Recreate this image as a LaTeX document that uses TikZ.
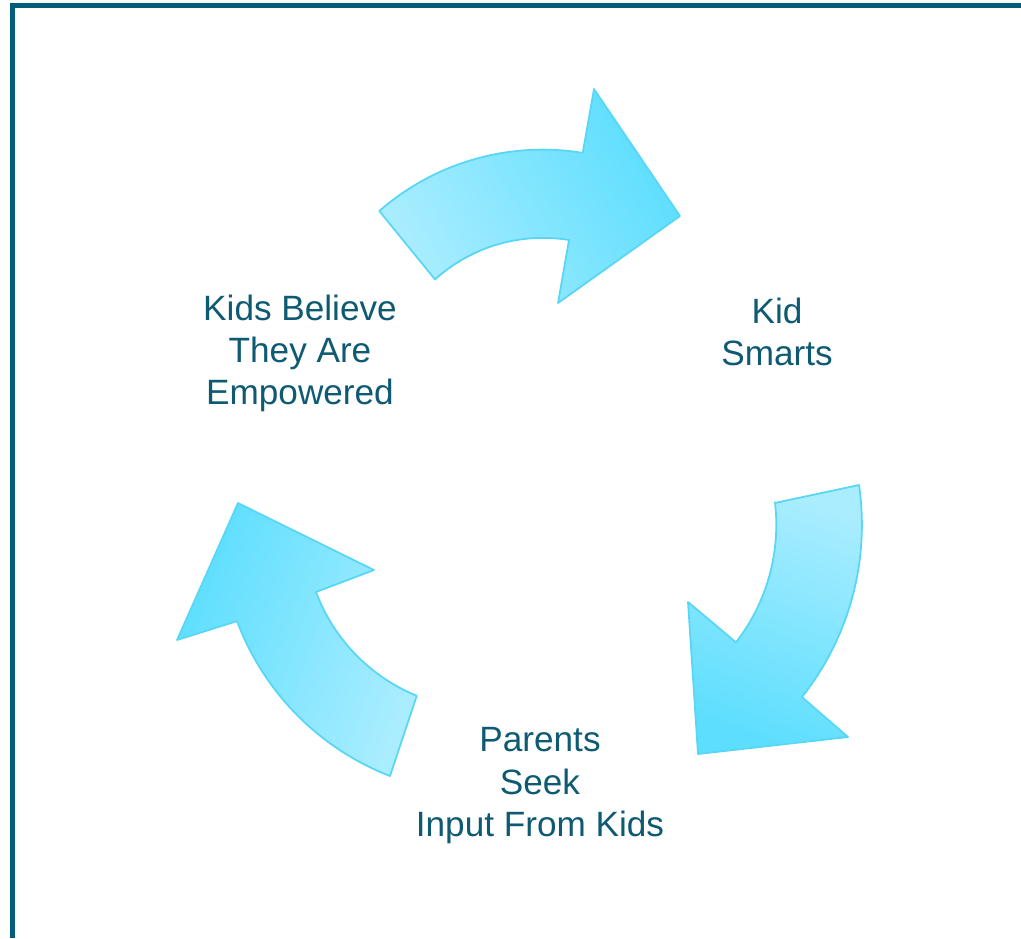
\documentclass[tikz,border=0pt]{standalone}
\usepackage{fontspec}
\setmainfont{Liberation Sans}
\definecolor{frameteal}{RGB}{0,94,120}
\definecolor{labelteal}{RGB}{14,90,115}
\definecolor{cyanlight}{RGB}{170,237,255}
\definecolor{cyandark}{RGB}{92,222,254}
\definecolor{cyanedge}{RGB}{88,214,246}

\begin{document}
\begin{tikzpicture}[x=0.01cm,y=-0.01cm,cycle arrow/.style={draw=cyanedge,line width=0.5pt,line join=round,top color=cyanlight,bottom color=cyandark},cycle label/.style={align=center,anchor=north,inner sep=0pt,text=labelteal,font=\fontsize{10}{12}\selectfont}]
  \useasboundingbox (0,0) rectangle (1021,938);
  \fill[frameteal] (10,3) rectangle (1021,7.5);
  \fill[frameteal] (10,3) rectangle (15,938);

  \node[cycle label] (believe) at (300,294) {Kids Believe\\They Are\\Empowered};
  \node[cycle label] (smarts) at (777,297) {Kid\\Smarts};
  \node[cycle label] (seek) at (540,727) {Parents\\Seek\\Input From Kids};

  \path[cycle arrow,shading angle=120] (379.3,211) arc[start angle=-131.2,end angle=-80.7,radius=248]
    -- (594,89) -- (680,216) -- (558,303) -- (569,240) arc[start angle=-80.7,end angle=-132.1,radius=161] -- cycle;
  \path[cycle arrow,shading angle=-20] (776,502.7) -- (859,485) arc[start angle=-8.3,end angle=38.4,radius=277]
    -- (848,737) -- (698,754) -- (688,602) -- (736,642.3) arc[start angle=37.8,end angle=-6.7,radius=192] -- cycle;
  \path[cycle arrow,shading angle=-110] (390,776) arc[start angle=111.2,end angle=159.5,radius=266]
    -- (177,640) -- (238,503) -- (374,570) -- (316,592) arc[start angle=159.4,end angle=112.3,radius=181] -- cycle;
\end{tikzpicture}
\end{document}
